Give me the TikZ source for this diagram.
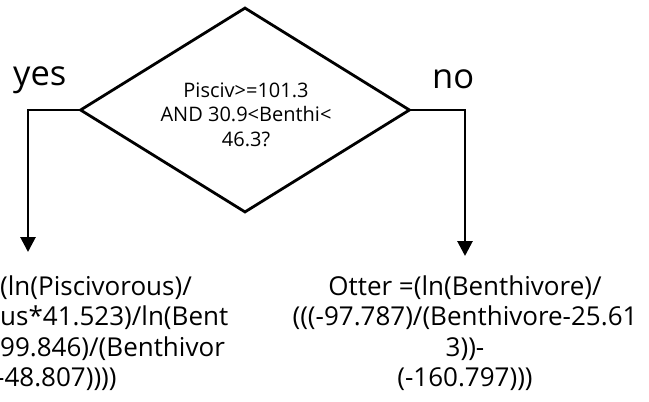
\documentclass[tikz,border=0pt]{standalone}
\usepackage{fontspec}
\setmainfont{Open Sans}
\usetikzlibrary{shapes.geometric,arrows.meta}

\begin{document}
\begin{tikzpicture}[x=1pt,y=-1pt,
  flow/.style={line width=2.8pt, line join=miter},
  arrowline/.style={flow, -{Triangle[width=15pt,length=15pt]}},
  decision/.style={diamond, draw, line width=2.8pt, minimum width=330pt,
    minimum height=205pt, inner sep=0pt},
  condtext/.style={align=center, inner sep=0pt, font=\fontsize{20}{24.5}\selectfont},
  branch/.style={inner sep=0pt, font=\fontsize{34.5}{40}\selectfont},
  result/.style={inner sep=0pt, font=\fontsize{26}{30.5}\selectfont},
]
\path[use as bounding box] (0,0) rectangle (649,402);
\clip (0,0) rectangle (649,402);

% decision (multi-line text boxes sit on the baseline of their last line)
\node[decision] (cond) at (245,110) {};
\node[condtext, anchor=base] (condtxt) at (246,146)
  {Pisciv>=101.3\\AND 30.9<Benthi<\\46.3?};

% branch labels
\node[branch, anchor=base west] (yes) at (13,85) {yes};
\node[branch, anchor=base west] (no) at (432,88) {no};

% outcomes
\node[result, align=center, anchor=base] (rres) at (465,386.5)
  {Otter =(ln(Benthivore)/\\(((-97.787)/(Benthivore-25.61\\3))-\\(-160.797)))};
\node[result, align=left, anchor=base west] (lres) at (0,386.5)
  {(ln(Piscivorous)/\\us*41.523)/ln(Bent\\99.846)/(Benthivor\\\hspace*{-4pt}-48.807))))};

% connectors
\coordinate (lturn) at (28,110);
\coordinate (ltip) at (28,252);
\coordinate (rturn) at (465,110);
\coordinate (rtip) at (465,256);
\draw[arrowline] (cond.west) -- (lturn) -- (ltip);
\draw[arrowline] (cond.east) -- (rturn) -- (rtip);
\end{tikzpicture}
\end{document}
